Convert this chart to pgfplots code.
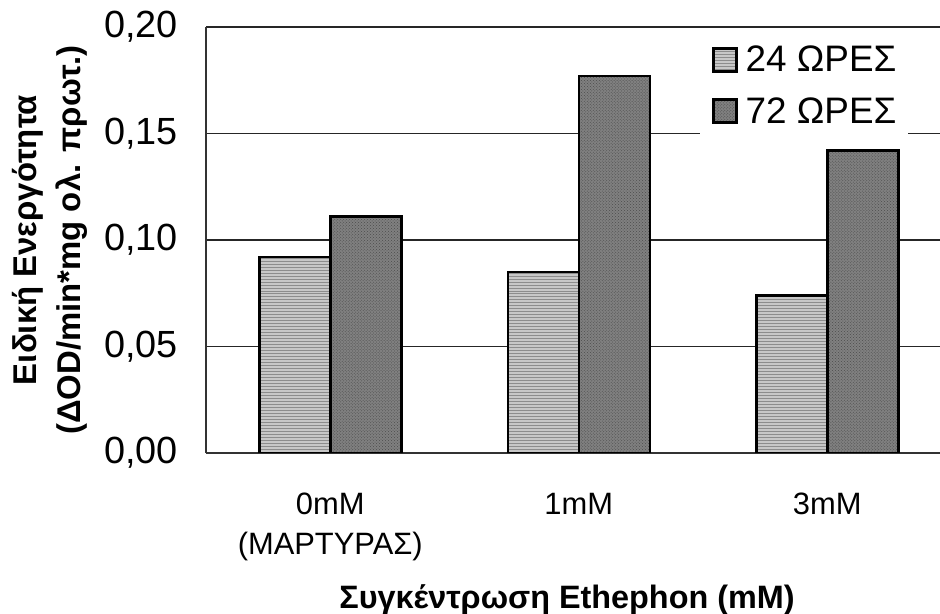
\documentclass[border=0pt]{standalone}
\usepackage{fontspec}
\setmainfont{Liberation Sans}
\usepackage{pgfplots}
\pgfplotsset{compat=1.18}
\usetikzlibrary{patterns}
\definecolor{lightbar}{gray}{0.78}
\definecolor{lightstripe}{gray}{0.55}
\definecolor{darkbar}{gray}{0.50}
\definecolor{darkdot}{gray}{0.30}
\definecolor{axisgray}{gray}{0.2}
\pgfplotsset{sqlegend/.style={legend image code/.code={\draw[##1] (0bp,-11.5bp) rectangle (23bp,11.5bp);}}}
\begin{document}
\begin{tikzpicture}
\path[use as bounding box] (0,0) rectangle (940bp,614bp);
\begin{axis}[
 at={(206bp,161bp)}, anchor=south west,
 scale only axis, width=734bp, height=426bp,
 ybar=0pt, bar width=71bp,
 xmin=-0.5, xmax=2.4537, ymin=0, ymax=0.2,
 axis x line*=bottom, axis y line*=left,
 axis line style={axisgray, line width=2.5bp},
 ymajorgrids, grid style={black!85, line width=1.5bp},
 major tick length=0pt,
 xtick={0,1,2}, xticklabels={{\strut 0mM\\(ΜΑΡΤΥΡΑΣ)},{\strut 1mM},{\strut 3mM}},
 x tick label style={font=\fontsize{31}{40}\selectfont, align=center, anchor=north, inner sep=0pt, yshift=-33.5bp},
 ytick={0,0.05,0.1,0.15,0.2},
 scaled y ticks=false,
 y tick label style={/pgf/number format/.cd, fixed, fixed zerofill, precision=2, use comma, assume math mode=true, /tikz/.cd, font=\fontsize{38}{44}\selectfont, anchor=east, inner sep=0pt, xshift=-28bp},
 xlabel={Συγκέντρωση Ethephon (mM)},
 xlabel style={font=\fontsize{32.5}{38}\selectfont\bfseries, at={(axis description cs:0.4918,-0.3075)}, anchor=north, inner sep=0pt},
 ylabel={Ειδική Ενεργότητα\\(ΔOD/min*mg ολ. πρωτ.)},
 ylabel style={font=\fontsize{33}{44}\selectfont\bfseries, align=center, at={(axis description cs:-0.2125,0.5)}, anchor=center, inner sep=0pt},
 legend style={draw=none, fill=white, at={(rel axis cs:0.6730,0.9883)}, anchor=north west, font=\fontsize{37}{44}\selectfont, inner xsep=12bp, inner ysep=14bp, row sep=24bp, nodes={inner sep=0pt}, /tikz/every odd column/.append style={column sep=8bp}},
 legend cell align=left,
]
\addplot[draw=black, line width=2.5bp, fill=lightbar, postaction={pattern=horizontal lines, pattern color=lightstripe}, sqlegend]
 coordinates {(0,0.092) (1,0.085) (2,0.074)};
\addplot[draw=black, line width=2.5bp, fill=darkbar, postaction={pattern=crosshatch dots, pattern color=darkdot}, sqlegend]
 coordinates {(0,0.111) (1,0.177) (2,0.142)};
\legend{24 ΩΡΕΣ, 72 ΩΡΕΣ}
\end{axis}
\end{tikzpicture}
\end{document}
